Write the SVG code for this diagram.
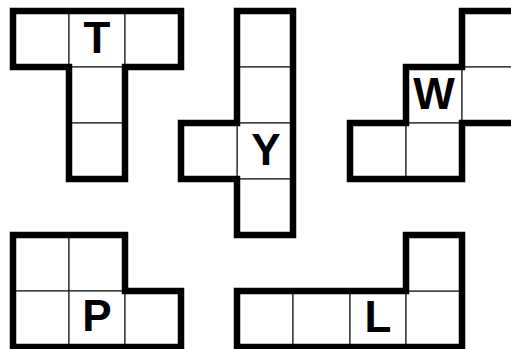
<svg xmlns="http://www.w3.org/2000/svg" width="511" height="349" viewBox="0 0 511 349">
<style>
.cell{fill:#fff;stroke:#222;stroke-width:1.2}
.out{fill:none;stroke:#000;stroke-width:6.5;stroke-linejoin:miter;stroke-linecap:square}
.lbl{font-family:"Liberation Sans",Arial,sans-serif;font-weight:bold;font-size:44px;text-anchor:middle;fill:#000}
</style>
<rect width="511" height="349" fill="#fff"/>
<g id="T">
<rect class="cell" x="13" y="11" width="56" height="56"/>
<rect class="cell" x="69" y="11" width="56" height="56"/>
<rect class="cell" x="125" y="11" width="56" height="56"/>
<rect class="cell" x="69" y="67" width="56" height="56"/>
<rect class="cell" x="69" y="123" width="56" height="56"/>
<path class="out" d="M13,11 H181 V67 H125 V179 H69 V67 H13 Z"/>
<text class="lbl" x="97" y="53">T</text>
</g>
<g id="Y">
<rect class="cell" x="237" y="11" width="56" height="56"/>
<rect class="cell" x="237" y="67" width="56" height="56"/>
<rect class="cell" x="237" y="123" width="56" height="56"/>
<rect class="cell" x="237" y="179" width="56" height="56"/>
<rect class="cell" x="181" y="123" width="56" height="56"/>
<path class="out" d="M237,11 H293 V235 H237 V179 H181 V123 H237 Z"/>
<text class="lbl" x="266" y="165">Y</text>
</g>
<g id="W">
<rect class="cell" x="462" y="11" width="56" height="56"/>
<rect class="cell" x="406" y="67" width="56" height="56"/>
<rect class="cell" x="462" y="67" width="56" height="56"/>
<rect class="cell" x="350" y="123" width="56" height="56"/>
<rect class="cell" x="406" y="123" width="56" height="56"/>
<path class="out" d="M462,11 H518 V123 H462 V179 H350 V123 H406 V67 H462 Z"/>
<text class="lbl" x="434" y="109">W</text>
</g>
<g id="P">
<rect class="cell" x="13" y="235" width="56" height="56"/>
<rect class="cell" x="69" y="235" width="56" height="56"/>
<rect class="cell" x="13" y="291" width="56" height="56"/>
<rect class="cell" x="69" y="291" width="56" height="56"/>
<rect class="cell" x="125" y="291" width="56" height="56"/>
<path class="out" d="M13,235 H125 V291 H181 V347 H13 Z"/>
<text class="lbl" x="97" y="331">P</text>
</g>
<g id="L">
<rect class="cell" x="237" y="291" width="56" height="56"/>
<rect class="cell" x="293" y="291" width="57" height="56"/>
<rect class="cell" x="350" y="291" width="56" height="56"/>
<rect class="cell" x="406" y="291" width="56" height="56"/>
<rect class="cell" x="406" y="235" width="56" height="56"/>
<path class="out" d="M237,291 H406 V235 H462 V347 H237 Z"/>
<text class="lbl" x="378" y="332">L</text>
</g>
<g id="connectors"/>
</svg>
